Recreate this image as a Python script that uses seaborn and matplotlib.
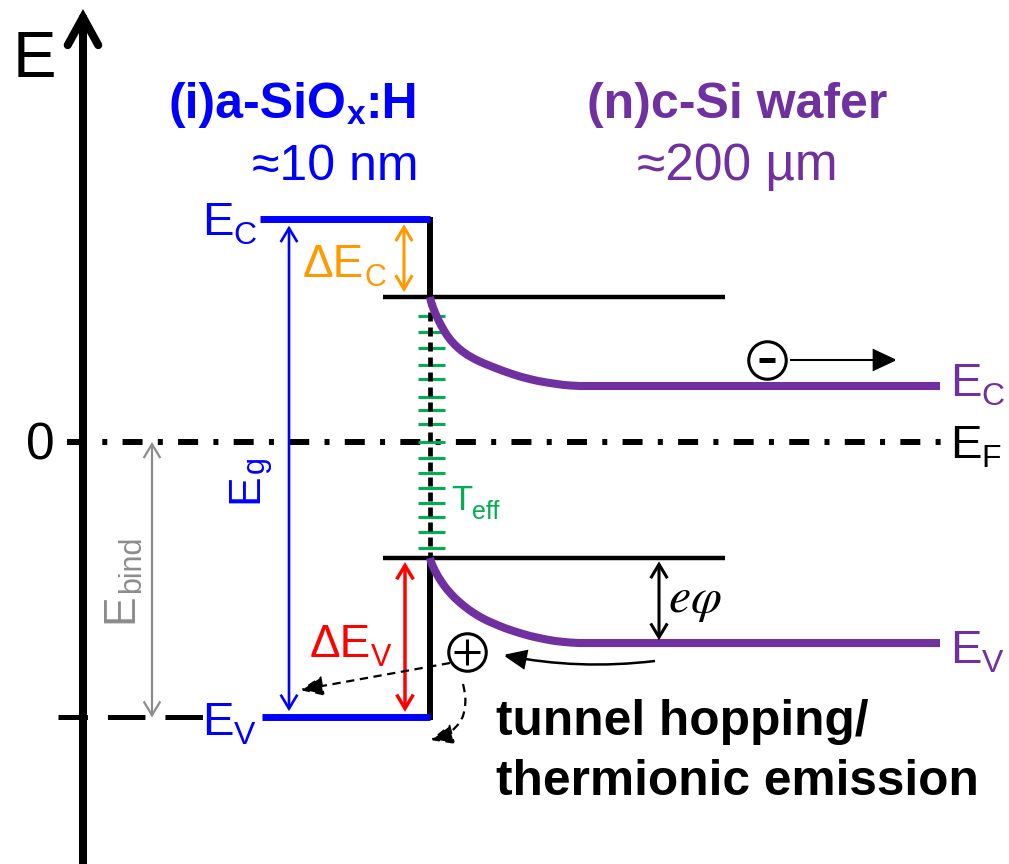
import matplotlib
matplotlib.use("Agg")
import matplotlib.pyplot as plt
import matplotlib.transforms as mtransforms
import pandas as pd
import seaborn as sns

# ---- band energies in eV, referenced to the Fermi level ----
E_F = 0.0
siox_Ec = 0.97
siox_Ev = -1.20

# c-Si band edges vs. depth (drawing units along the x axis)
csi_x = [430, 431, 433, 435, 438, 441, 444, 447, 451, 455, 459, 463, 468, 474,
         480, 487, 497, 505, 513, 521, 530, 538, 547, 555, 563, 571, 580, 940]
csi_Ec = [0.632, 0.612, 0.586, 0.564, 0.535, 0.509, 0.486, 0.465, 0.442, 0.423,
          0.407, 0.393, 0.378, 0.363, 0.350, 0.337, 0.320, 0.307, 0.295, 0.284,
          0.274, 0.266, 0.259, 0.254, 0.249, 0.246, 0.244, 0.244]
csi_Ev = [-0.505, -0.522, -0.543, -0.561, -0.585, -0.606, -0.625, -0.642, -0.662,
          -0.680, -0.696, -0.711, -0.728, -0.746, -0.762, -0.778, -0.797, -0.811,
          -0.823, -0.834, -0.845, -0.853, -0.861, -0.867, -0.871, -0.874, -0.876,
          -0.876]

# interface defect levels (eV)
trap_E = [0.55, 0.48, 0.41, 0.335, 0.275, 0.195, 0.14, 0.08, 0.0,
          -0.07, -0.135, -0.20, -0.265, -0.325, -0.39, -0.46]

# ---- canvas ----
W, H, DPI = 1009, 864, 100
PX_PER_EV = 229.5
EF_ROW = 442

BLUE = "#0000FF"
PURPLE = "#7030A0"
GREEN = "#00B050"
ORANGE = "#FF9900"
RED = "#FF0000"
GRAY = "#8C8C8C"

sns.set_theme(style="white")
plt.rcParams["font.family"] = ["Liberation Sans", "DejaVu Sans"]
plt.rcParams["mathtext.fontset"] = "stix"
plt.rcParams["lines.scale_dashes"] = False
plt.rcParams["text.color"] = "black"

fig = plt.figure(figsize=(W / DPI, H / DPI), dpi=DPI)
fig.patch.set_facecolor("white")
ax = fig.add_axes([0, 0, 1, 1])
renderer = fig.canvas.get_renderer()

# pixel frame (origin top-left) for annotations
PX = mtransforms.Affine2D().scale(1 / W, -1 / H).translate(0, 1) + fig.transFigure


def chain(x, y, parts, color, rot=0, weight="normal", align="left"):
    """Write text pieces one after another; each part is (text, size, baseline drop px)."""
    arts = []
    cx, cy = x, y
    for text, size, drop in parts:
        if rot == 0:
            t = ax.text(cx, y + drop, text, transform=PX, color=color, fontsize=size,
                        fontweight=weight, ha="left", va="baseline")
            cx = t.get_window_extent(renderer).x1
        else:
            t = ax.text(x + drop, cy, text, transform=PX, color=color, fontsize=size,
                        fontweight=weight, ha="left", va="baseline",
                        rotation=90, rotation_mode="anchor")
            cy = H - t.get_window_extent(renderer).y1
        arts.append(t)
    if rot == 0 and align != "left":
        total = cx - x
        shift = -total if align == "right" else -total / 2
        for t in arts:
            px0, py0 = t.get_position()
            t.set_position((px0 + shift, py0))
    return arts


def arrow(p_from, p_to, style, color, lw, coords="data", ls="-", rad=0.0,
          shrinkA=0, shrinkB=0, ms=20, cap="butt"):
    ax.annotate("", xy=p_to, xytext=p_from, xycoords=coords, textcoords=coords,
                arrowprops=dict(arrowstyle=style, color=color, lw=lw, ls=ls,
                                shrinkA=shrinkA, shrinkB=shrinkB, mutation_scale=ms,
                                connectionstyle=f"arc3,rad={rad}",
                                capstyle=cap, joinstyle="miter"))


# ---- energy axis ----
arrow((83, 864), (83, 9), "->, head_length=1.0, head_width=0.55", "black", 5.8,
      coords=PX, cap="round")
ax.text(13, 77, "E", transform=PX, fontsize=47, color="black", ha="left", va="baseline")
ax.text(40, 460, "0", transform=PX, fontsize=37, color="black", ha="center", va="baseline")

# Fermi level
ax.plot([67, 943], [E_F, E_F], color="black", lw=4.3,
        linestyle=(0, (14.4, 11.0, 3.6, 11.0)), dash_capstyle="butt")
# binding-energy reference at the a-SiOx valence band edge
ax.plot([58, 205], [siox_Ev, siox_Ev], color="black", lw=3.6,
        linestyle=(5.8, (27, 14.4)), dash_capstyle="butt")

# ---- interface states and junction ----
ax.hlines(trap_E, 418, 445, color=GREEN, lw=2.2)
ax.plot([430, 430], [csi_Ec[0], csi_Ev[0]], color="black", lw=3.4,
        linestyle=(0, (6.5, 4.3)), dash_capstyle="butt")
ax.plot([430, 430], [siox_Ec + 0.012, csi_Ec[0]], color="black", lw=4.3, solid_capstyle="butt")
ax.plot([430, 430], [csi_Ev[0], siox_Ev - 0.012], color="black", lw=4.3, solid_capstyle="butt")

# a-SiOx band edges
ax.plot([260, 430], [siox_Ec, siox_Ec], color=BLUE, lw=5.0, solid_capstyle="butt")
ax.plot([262, 430], [siox_Ev, siox_Ev], color=BLUE, lw=5.0, solid_capstyle="butt")

# c-Si band edges at the interface (reference lines)
ax.plot([383, 725], [csi_Ec[0], csi_Ec[0]], color="black", lw=3.2, solid_capstyle="butt")
ax.plot([383, 725], [csi_Ev[0], csi_Ev[0]], color="black", lw=3.2, solid_capstyle="butt")

# c-Si band bending
n = len(csi_x)
bands = pd.DataFrame({
    "x": csi_x + csi_x,
    "E": csi_Ec + csi_Ev,
    "band": ["Ec"] * n + ["Ev"] * n,
})
sns.lineplot(data=bands, x="x", y="E", units="band", estimator=None, sort=False,
             color=PURPLE, lw=5.8, solid_capstyle="butt", solid_joinstyle="round",
             legend=False, ax=ax)

ax.set_xlim(0, W)
ax.set_ylim((EF_ROW - H) / PX_PER_EV, EF_ROW / PX_PER_EV)
ax.axis("off")

# ---- energy differences ----
chevron = "<->, head_length=0.5, head_width=0.3"
arrow((289, siox_Ec), (289, siox_Ev), chevron, BLUE, 1.9, shrinkA=4.5, shrinkB=4.5)
arrow((404, siox_Ec), (404, csi_Ec[0]), chevron, ORANGE, 2.2, shrinkA=3.5, shrinkB=3.5)
arrow((405, csi_Ev[0]), (405, siox_Ev), chevron, RED, 2.5, shrinkA=3, shrinkB=4)
arrow((152, E_F), (152, siox_Ev), chevron, GRAY, 1.6, shrinkA=0, shrinkB=0)
arrow((659, csi_Ev[0]), (659, csi_Ev[-1]), chevron, "black", 2.2, shrinkA=2.5, shrinkB=2)

# ---- labels ----
chain(418, 118, [("(i)a-SiO", 36, 0), ("x", 24, 6), (":H", 36, 0)], BLUE,
      weight="bold", align="right")
chain(418, 180, [("≈10 nm", 36, 0)], BLUE, align="right")
chain(737, 118, [("(n)c-Si wafer", 36, 0)], PURPLE, weight="bold", align="center")
chain(737, 180, [("≈200 µm", 37, 0)], PURPLE, align="center")

chain(202, 235, [("E", 34, 0), ("C", 23, 9)], BLUE)
chain(202, 735, [("E", 34, 0), ("V", 23, 9)], BLUE)
chain(950, 396, [("E", 34, 0), ("C", 23, 9)], PURPLE)
chain(950, 458, [("E", 34, 0), ("F", 23, 9)], "black")
chain(950, 663, [("E", 34, 0), ("V", 23, 9)], PURPLE)

chain(303, 277, [("ΔE", 33, 0), ("C", 22, 9)], ORANGE)
chain(310, 657, [("ΔE", 33, 0), ("V", 22, 9)], RED)
chain(451, 510, [("T", 25, 0), ("eff", 18, 9)], GREEN)
chain(257, 503, [("E", 32, 0), ("g", 22, 7)], BLUE, rot=90)
chain(132, 623, [("E", 32, 0), ("bind", 22, 8)], GRAY, rot=90)

ax.text(668, 612, r"$e\varphi$", transform=PX, fontsize=36, color="black",
        ha="left", va="baseline")
ax.text(496, 735, "tunnel hopping/", transform=PX, fontsize=35.7, fontweight="bold",
        color="black", ha="left", va="baseline")
ax.text(496, 795, "thermionic emission", transform=PX, fontsize=35.7, fontweight="bold",
        color="black", ha="left", va="baseline")

# ---- carriers ----
ax.plot([767], [360], transform=PX, marker="o", ms=27, mfc="white", mec="black", mew=2.2)
ax.plot([767], [360], transform=PX, marker="_", ms=12, mec="black", mew=3.6)
arrow((790, 360), (897, 360), "-|>, head_length=0.75, head_width=0.35", "black", 1.5, coords=PX)

ax.plot([467], [652], transform=PX, marker="o", ms=27, mfc="white", mec="black", mew=2.2)
ax.plot([467], [652], transform=PX, marker="+", ms=19, mec="black", mew=2.2)

arrow((655, 661), (503, 655), "-|>, head_length=0.7, head_width=0.3", "black", 1.8,
      coords=PX, rad=-0.08)
arrow((450, 663), (300, 690), "-|>, head_length=0.7, head_width=0.3", "black", 1.6,
      coords=PX, ls=(0, (6, 4)))
arrow((463, 684), (430, 740), "-|>, head_length=0.7, head_width=0.3", "black", 1.6,
      coords=PX, ls=(0, (6, 4)), rad=-0.5)

ax.set_xlim(0, W)
ax.set_ylim((EF_ROW - H) / PX_PER_EV, EF_ROW / PX_PER_EV)

fig.savefig("out.png", dpi=DPI, facecolor="white")
